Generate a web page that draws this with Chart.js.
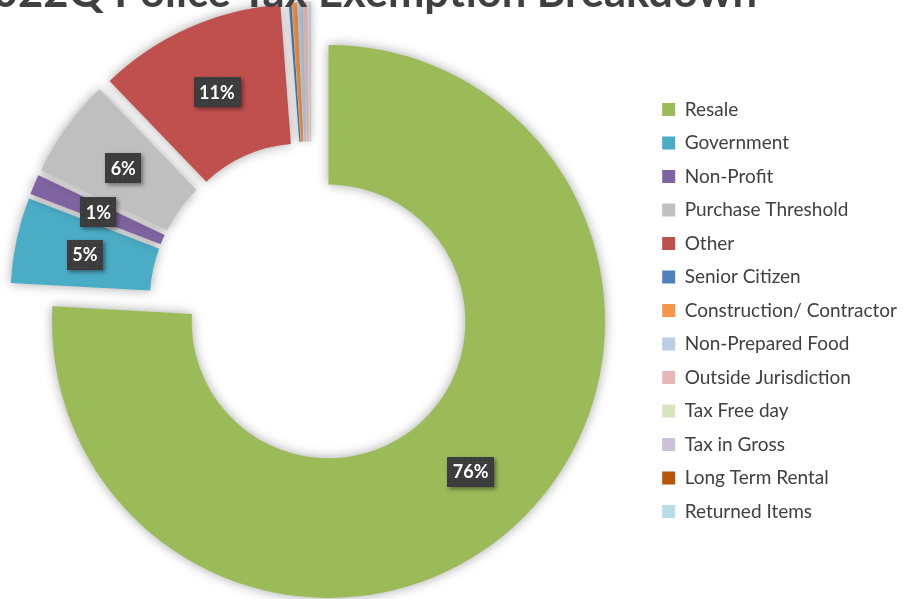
<!DOCTYPE html>
<html>
<head>
<meta charset="utf-8">
<script src="https://cdn.jsdelivr.net/npm/chart.js@4.4.1/dist/chart.umd.min.js"></script>
<style>
  html, body { margin: 0; padding: 0; background: #fff; overflow: hidden; }
  #wrap { width: 905px; height: 599px; overflow: hidden; position: relative; }
  /* el lienzo es algo más ancho y se corre a la izquierda: el donut queda centrado como en la imagen */
  #chart { position: absolute; left: -25px; top: 0; }
</style>
</head>
<body>
<div id="wrap"><canvas id="chart" width="930" height="599"></canvas></div>
<script>
// ------------------------------
// Datos del gráfico
// ------------------------------
const titleText = '2022Q Police Tax Exemption Breakdown';
const categories = [
  'Resale', 'Government', 'Non-Profit', 'Purchase Threshold', 'Other',
  'Senior Citizen', 'Construction/ Contractor', 'Non-Prepared Food',
  'Outside Jurisdiction', 'Tax Free day', 'Tax in Gross', 'Long Term Rental',
  'Returned Items'
];
// share of exemptions, %
const shares = [76.0, 5.0, 1.17, 5.8, 11.0, 0.15, 0.3, 0.3, 0.25, 0.05, 0.08, 0.02, 0.05];
const colors = [
  '#9BBB59', '#4BACC6', '#8064A2', '#BFBFBF', '#C0504D', '#4F81BD', '#F79646',
  '#B9CDE5', '#E6B9B8', '#D7E4BD', '#CCC1DA', '#B65708', '#B7DEE8'
];

const X_SHIFT = 25; // px que el lienzo se corre a la izquierda

// ------------------------------
// Arco "explotado": se desplaza entero hacia fuera (como Excel)
// ------------------------------
class ExplodedArc extends Chart.ArcElement {
  draw(ctx) {
    const { x, y, startAngle, endAngle, innerRadius, outerRadius, options } = this;
    const mid = (startAngle + endAngle) / 2;
    const d = options.offset || 0;
    ctx.save();
    ctx.translate(Math.cos(mid) * d, Math.sin(mid) * d);
    ctx.shadowColor = 'rgba(0,0,0,0.35)';
    ctx.shadowBlur = 12;
    ctx.beginPath();
    ctx.arc(x, y, outerRadius, startAngle, endAngle);
    ctx.arc(x, y, innerRadius, endAngle, startAngle, true);
    ctx.closePath();
    ctx.fillStyle = options.backgroundColor;
    ctx.fill();
    ctx.restore();
  }
}
ExplodedArc.id = 'explodedArc';
ExplodedArc.defaults = Object.assign({}, Chart.ArcElement.defaults);
ExplodedArc.defaultRoutes = Object.assign({}, Chart.ArcElement.defaultRoutes);
ExplodedArc.descriptors = Chart.ArcElement.descriptors;
Chart.register(ExplodedArc);
Chart.defaults.datasets.doughnut.dataElementType = 'explodedArc';

// ------------------------------
// Etiquetas de porcentaje (caja oscura)
// ------------------------------
function dotPattern(ctx) {
  const c = document.createElement('canvas');
  c.width = 5; c.height = 5;
  const p = c.getContext('2d');
  p.fillStyle = '#3c3c3c';
  p.fillRect(0, 0, 5, 5);
  p.fillStyle = '#4c4c4c';
  p.fillRect(2, 2, 1, 1);
  return ctx.createPattern(c, 'repeat');
}

const pctLabels = {
  id: 'pctLabels',
  afterDatasetsDraw(chart) {
    const ctx = chart.ctx;
    const meta = chart.getDatasetMeta(0);
    const total = shares.reduce((a, b) => a + b, 0);
    const fill = dotPattern(ctx);
    ctx.save();
    ctx.font = 'bold 18px Lato';
    ctx.textAlign = 'center';
    ctx.textBaseline = 'middle';
    meta.data.forEach((arc, i) => {
      const pct = Math.round(shares[i] / total * 100);
      if (pct < 1) return; // las porciones mínimas no llevan etiqueta
      const mid = (arc.startAngle + arc.endAngle) / 2;
      const r = (arc.innerRadius + arc.outerRadius) / 2 + (arc.options.offset || 0);
      const x = arc.x + Math.cos(mid) * r;
      const y = arc.y + Math.sin(mid) * r;
      const txt = pct + '%';
      const w = ctx.measureText(txt).width + 11;
      const h = 30;
      ctx.save();
      ctx.shadowColor = 'rgba(0,0,0,0.45)';
      ctx.shadowBlur = 4;
      ctx.shadowOffsetX = 2;
      ctx.shadowOffsetY = 2;
      ctx.fillStyle = fill;
      ctx.fillRect(Math.round(x - w / 2), Math.round(y - h / 2), Math.round(w), h);
      ctx.restore();
      ctx.fillStyle = '#ffffff';
      ctx.fillText(txt, x, y + 1);
    });
    ctx.restore();
  }
};

// Título (cortado arriba, como en la imagen)
const topTitle = {
  id: 'topTitle',
  afterDraw(chart) {
    const ctx = chart.ctx;
    ctx.save();
    ctx.font = 'bold 43.5px Lato';
    ctx.fillStyle = '#404040';
    ctx.textAlign = 'right';
    ctx.textBaseline = 'alphabetic';
    ctx.fillText(titleText, 757 + X_SHIFT, 7);
    ctx.restore();
  }
};

new Chart(document.getElementById('chart'), {
  type: 'doughnut',
  data: {
    labels: categories,
    datasets: [{
      data: shares,
      backgroundColor: colors,
      borderWidth: 0,
      offset: 25,
      radius: 276.5,
      cutout: '49.5%'
    }]
  },
  options: {
    responsive: false,
    animation: false,
    layout: { padding: { left: 0, right: -2, top: 71.1, bottom: 63.5 } },
    plugins: {
      legend: {
        position: 'right',
        align: 'end',
        labels: {
          boxWidth: 13,
          boxHeight: 13,
          padding: 14.5,
          color: '#404040',
          font: { family: 'Lato', size: 19 }
        }
      },
      tooltip: { enabled: false }
    }
  },
  plugins: [pctLabels, topTitle]
});
</script>
</body>
</html>
